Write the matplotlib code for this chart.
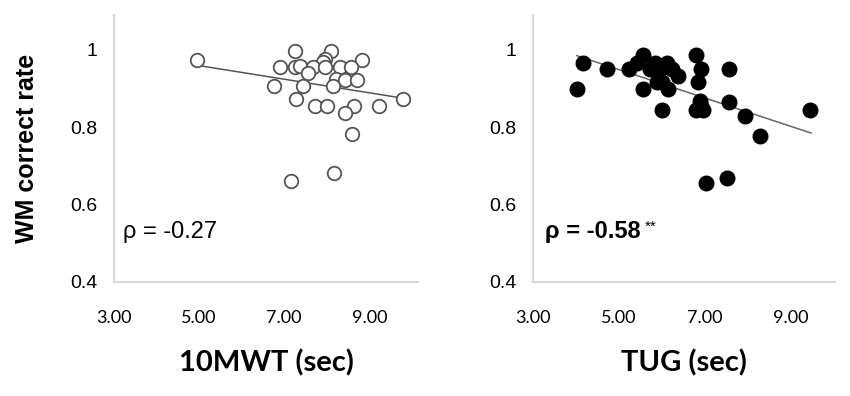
import numpy as np
import matplotlib.pyplot as plt

# 10MWT (sec) vs WM correct rate
mwt_x = [4.96, 7.25, 8.11, 7.95, 7.91, 8.82, 6.90, 7.25, 7.37, 7.68, 7.95, 8.32, 8.57,
         7.56, 8.22, 8.43, 8.71, 6.76, 7.45, 8.14, 9.80, 7.28, 7.73, 8.01, 8.65, 9.23,
         8.42, 8.59, 7.15, 8.16]
mwt_y = [0.975, 0.996, 0.996, 0.977, 0.969, 0.975, 0.956, 0.956, 0.958, 0.956, 0.956, 0.956, 0.956,
         0.941, 0.924, 0.923, 0.923, 0.907, 0.907, 0.907, 0.872, 0.872, 0.855, 0.855, 0.855, 0.855,
         0.836, 0.783, 0.662, 0.681]

# TUG (sec) vs WM correct rate
tug_x = [4.02, 4.16, 4.72, 5.23, 5.42, 5.56, 5.73, 5.84, 5.96, 6.11, 6.24, 6.37, 5.88, 6.00,
         6.14, 5.56, 6.01, 6.79, 6.90, 6.83, 6.88, 6.79, 6.96, 6.90, 7.57, 7.57, 7.93, 8.29,
         9.45, 7.02, 7.51]
tug_y = [0.899, 0.966, 0.951, 0.951, 0.966, 0.988, 0.951, 0.966, 0.951, 0.966, 0.951, 0.933, 0.918, 0.918,
         0.899, 0.899, 0.845, 0.988, 0.951, 0.918, 0.869, 0.845, 0.845, 0.856, 0.951, 0.865, 0.829, 0.778,
         0.845, 0.656, 0.670]

# trend line end points
mwt_trend_x = [4.96, 9.74]
mwt_trend_y = [0.960, 0.876]
tug_trend_x = [4.02, 9.47]
tug_trend_y = [0.985, 0.785]

xticks = [3, 5, 7, 9]
xtick_labels = ["3.00", "5.00", "7.00", "9.00"]
yticks = [0.4, 0.6, 0.8, 1.0]
ytick_labels = ["0.4", "0.6", "0.8", "1"]

fig = plt.figure(figsize=(8.5, 3.96), dpi=100)
ax1 = fig.add_axes([0.134, 0.288, 0.358, 0.674])
ax2 = fig.add_axes([0.627, 0.288, 0.355, 0.674])

ax1.scatter(mwt_x, mwt_y, s=95, facecolors="white", edgecolors="#555555", linewidths=1.3, zorder=3)
ax1.plot(mwt_trend_x, mwt_trend_y, color="#555555", lw=1.1, zorder=2)
ax2.scatter(tug_x, tug_y, s=110, color="black", zorder=3)
ax2.plot(tug_trend_x, tug_trend_y, color="#666666", lw=1.1, zorder=2)

for ax, xmax in [(ax1, 10.15), (ax2, 10.02)]:
    ax.set_xlim(3, xmax)
    ax.set_ylim(0.4, 1.09)
    ax.set_xticks(xticks)
    ax.set_xticklabels(xtick_labels, family="Lato", fontsize=13)
    ax.set_yticks(yticks)
    ax.set_yticklabels(ytick_labels, family="Liberation Sans", fontsize=14)
    ax.tick_params(length=0)
    ax.tick_params(axis="x", pad=20)
    ax.tick_params(axis="y", pad=12)
    for side in ["top", "right"]:
        ax.spines[side].set_visible(False)
    for side in ["left", "bottom"]:
        ax.spines[side].set_color("#d9d9d9")
        ax.spines[side].set_linewidth(1.5)

ax1.set_xlabel("10MWT (sec)", family="Lato", fontsize=21, fontweight="bold", labelpad=17)
ax2.set_xlabel("TUG (sec)", family="Lato", fontsize=21, fontweight="bold", labelpad=17)
ax1.set_ylabel("WM correct rate", family="Liberation Sans", fontsize=18, fontweight="bold", labelpad=22)

ax1.text(0.03, 0.165, "ρ = -0.27", transform=ax1.transAxes, family="Liberation Sans", fontsize=17)
t2 = ax2.text(0.04, 0.165, "ρ = -0.58", transform=ax2.transAxes, family="Liberation Sans",
              fontsize=17, fontweight="bold")
ax2.annotate("**", xy=(1, 1), xycoords=t2, xytext=(3, 0), textcoords="offset points",
             ha="left", va="top", family="Liberation Sans", fontsize=11)

fig.savefig("out.png", dpi=100)
